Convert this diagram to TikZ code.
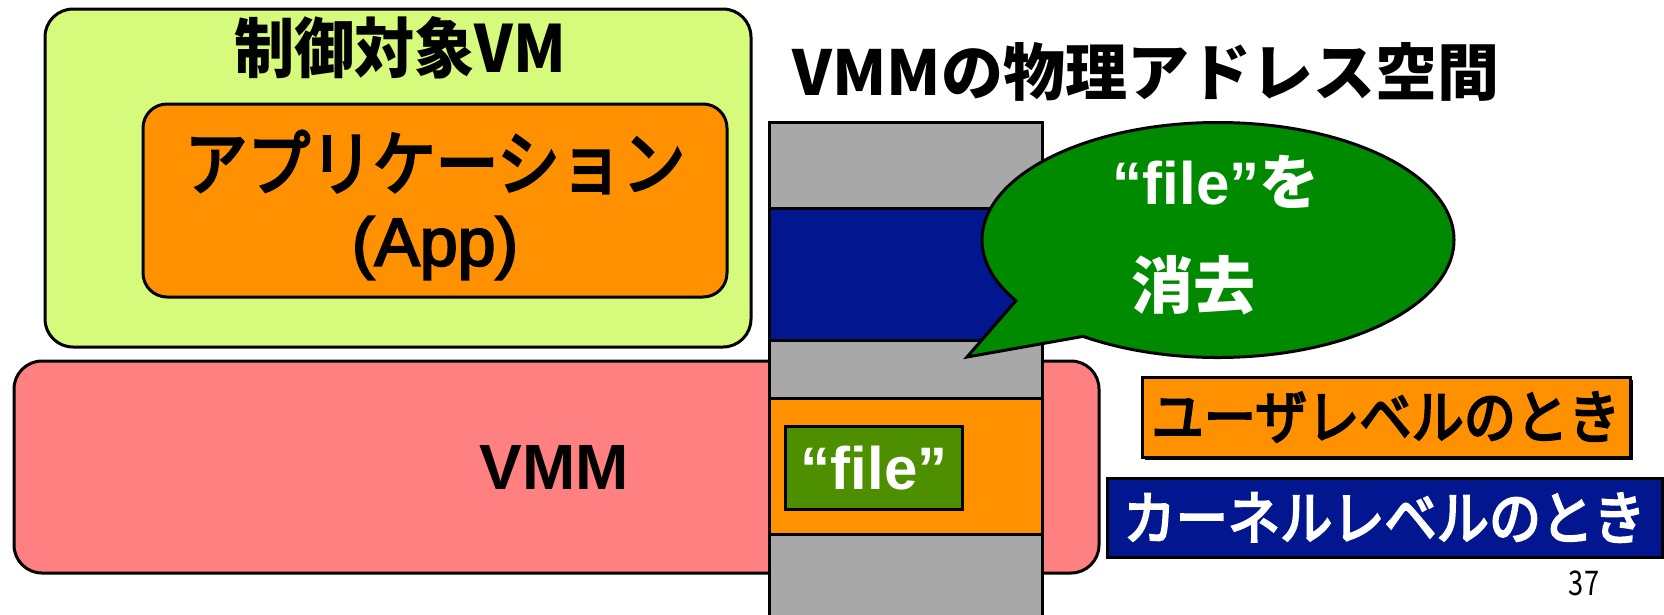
\documentclass[tikz,border=0pt]{standalone}
\usepackage{fontspec}
\setmainfont{Noto Sans CJK JP}
\newfontfamily\lat{Liberation Sans}
\newfontfamily\latm{Liberation Sans}[FakeBold=3]
\newfontfamily\jpm{Noto Sans CJK JP}[FakeBold=4]
\usetikzlibrary{shapes.callouts}
\definecolor{lgreen}{RGB}{214,250,124}
\definecolor{orng}{RGB}{255,145,0}
\definecolor{pinkc}{RGB}{255,128,128}
\definecolor{grayc}{RGB}{168,168,168}
\definecolor{navy}{RGB}{2,22,143}
\definecolor{bubg}{RGB}{0,138,0}
\definecolor{fileg}{RGB}{78,143,0}
\newcommand\myfs[1]{\fontsize{#1}{#1}\selectfont}
\begin{document}
\begin{tikzpicture}[x=1pt,y=-1pt,
  box/.style={draw=black,line width=3pt,rounded corners=28pt},
  band/.style={draw=black,line width=3pt},
  big/.style={font=\myfs{62}\bfseries,inner sep=0pt},
  lab/.style={draw=black,line width=3pt,inner sep=0pt,font=\myfs{58}\jpm}]
\useasboundingbox (0,0) rectangle (1664,614);
% controlled VM
\draw[box,fill=lgreen] (45,9) rectangle (751,347);
\node[big] (vmtitle) at (400,48) {\scalebox{0.97}[1.05]{制御対象VM}};
\draw[box,fill=orng,rounded corners=24pt] (143,104) rectangle (727,297);
\node[inner sep=0pt,font=\myfs{64}\jpm] (app1) at (435,162) {\scalebox{0.98}[1.1]{アプリケーション}};
\node[font=\myfs{68}\latm,inner sep=0pt] (app2) at (435,248) {(App)};
% VMM
\draw[box,fill=pinkc] (14,361) rectangle (1099,573);
\node[big,font=\myfs{64}\lat\bfseries] (vmm) at (554,467) {VMM};
% physical address space
\node[big] (pastitle) at (1146,72) {VMMの物理アドレス空間};
\draw[band,fill=grayc] (769,122) rectangle (1042,640);
\draw[band,fill=navy] (769,208) rectangle (1042,340);
\draw[band,fill=orng] (769,398) rectangle (1042,534);
\node[draw=black,line width=3pt,fill=fileg,minimum width=177pt,minimum height=83pt,inner sep=0pt,
  text=white,font=\myfs{60}\lat\bfseries] (file) at (874,468) {“file”};
% bubble
\node[ellipse callout,draw=black,line width=3pt,fill=bubg,minimum width=472pt,minimum height=235pt,
  inner sep=0pt,callout absolute pointer={(967,357)},callout pointer arc=24] (bubble) at (1218,240) {};
\node[big,text=white,font=\myfs{60}\bfseries] (bub1) at (1216,182) {\lat“file”\myfs{60}\rmfamily\bfseries を};
\node[big,text=white] (bub2) at (1193,285) {消去};
% legend
\fill[black] (1145,380) rectangle (1633,460);
\node[lab,fill=orng,minimum width=488pt,minimum height=80pt] (user) at (1386,417) {\scalebox{0.9}[1]{ユーザレベルのとき}};
\node[lab,fill=navy,text=white,minimum width=555pt,minimum height=79pt] (kernel) at (1384.5,517.5) {\scalebox{0.9}[1]{カーネルレベルのとき}};
\node[font=\myfs{34},inner sep=0pt] (page) at (1584,583) {\scalebox{0.8}[1]{37}};
\end{tikzpicture}
\end{document}
